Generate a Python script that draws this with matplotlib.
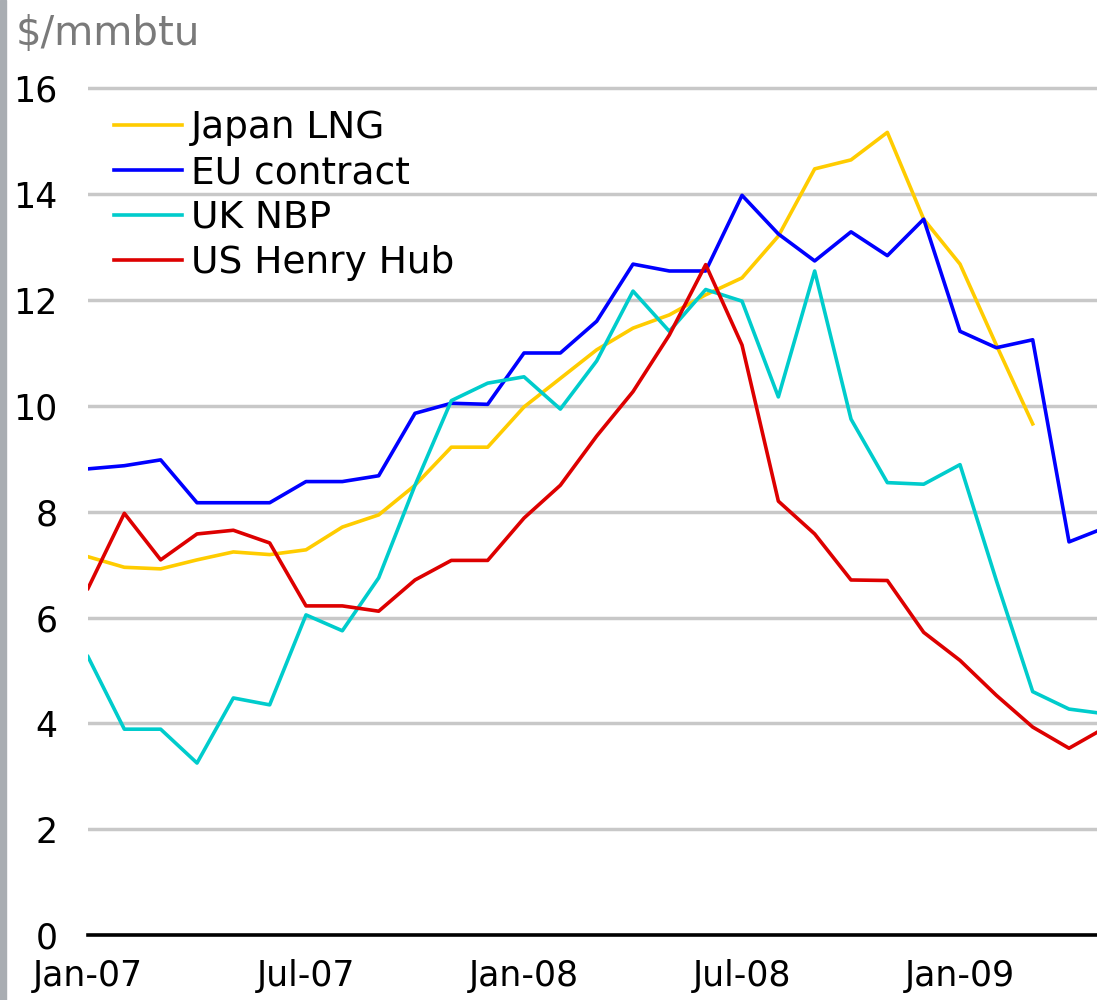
import matplotlib.pyplot as plt
from matplotlib.patches import Rectangle

# monthly prices, Jan-07 .. May-09 ($/mmbtu)
japan_lng = [7.15, 6.95, 6.92, 7.09, 7.24, 7.19, 7.28, 7.71, 7.94, 8.5, 9.22, 9.22,
             9.98, 10.52, 11.06, 11.47, 11.72, 12.1, 12.42, 13.21, 14.48, 14.65, 15.17, 13.53,
             12.68, 11.15, 9.66]
eu_contract = [8.81, 8.87, 8.98, 8.17, 8.17, 8.17, 8.57, 8.57, 8.68, 9.86, 10.05, 10.03,
               11.0, 11.0, 11.6, 12.68, 12.55, 12.55, 13.98, 13.25, 12.74, 13.29, 12.84, 13.53,
               11.41, 11.1, 11.25, 7.43, 7.7]
uk_nbp = [5.26, 3.89, 3.89, 3.25, 4.48, 4.35, 6.05, 5.75, 6.75, 8.5, 10.1, 10.43,
          10.55, 9.94, 10.85, 12.17, 11.41, 12.2, 11.98, 10.17, 12.55, 9.75, 8.55, 8.52,
          8.89, 6.7, 4.6, 4.27, 4.18]
us_henry_hub = [6.55, 7.97, 7.09, 7.58, 7.65, 7.41, 6.22, 6.22, 6.12, 6.71, 7.08, 7.08,
                7.88, 8.5, 9.43, 10.27, 11.34, 12.67, 11.15, 8.2, 7.58, 6.71, 6.7, 5.72,
                5.19, 4.53, 3.93, 3.53, 3.92]

series = [('Japan LNG', japan_lng, '#ffcc00'),
          ('EU contract', eu_contract, '#0000ff'),
          ('UK NBP', uk_nbp, '#00cccc'),
          ('US Henry Hub', us_henry_hub, '#dd0000')]

tick_pos = [0, 6, 12, 18, 24]
tick_labels = ['Jan-07', 'Jul-07', 'Jan-08', 'Jul-08', 'Jan-09']
y_ticks = [0, 2, 4, 6, 8, 10, 12, 14, 16]

plt.rcParams['font.family'] = ['DejaVu Sans']

fig = plt.figure(figsize=(10.97, 10), dpi=100)
ax = fig.add_axes([88 / 1097, 0.065, 1 - 88 / 1097, 0.873])

for name, vals, col in series:
    ax.plot(range(len(vals)), vals, color=col, lw=2.6, label=name)

ax.set_xlim(0, 27.77)
ax.set_ylim(0, 16.5)
ax.set_xticks(tick_pos)
ax.set_xticklabels(tick_labels)
ax.set_yticks(y_ticks)
ax.set_yticklabels([str(v) for v in y_ticks])

for s in ['top', 'right', 'left']:
    ax.spines[s].set_visible(False)
ax.spines['bottom'].set_linewidth(2.6)
ax.spines['bottom'].set_color('black')

ax.yaxis.grid(True, color='#c8c8c8', linewidth=2.5)
ax.set_axisbelow(True)
ax.tick_params(axis='both', length=0, colors='black')
ax.tick_params(axis='y', pad=22, labelsize=25)
ax.tick_params(axis='x', pad=17, labelsize=25)

ax.legend(loc='upper left', bbox_to_anchor=(114 / 1097, 1 - 110 / 1000),
          bbox_transform=fig.transFigure, frameon=False, fontsize=27,
          handlelength=1.8, handletextpad=0.25, labelspacing=0.24,
          borderpad=0, borderaxespad=0)

fig.text(16 / 1097, 1 - 34 / 1000, r'\$/mmbtu', fontsize=29, color='#7a7a7a',
         va='center', ha='left')

# grey strip along the left edge
fig.patches.append(Rectangle((0, 0), 6 / 1097, 1, transform=fig.transFigure,
                             color='#a9adb2', zorder=0))

fig.savefig('out.png', dpi=100)
